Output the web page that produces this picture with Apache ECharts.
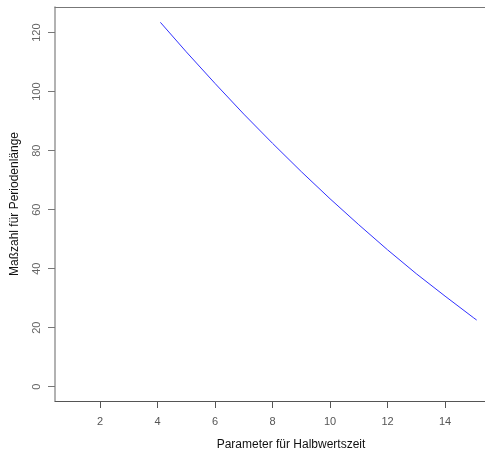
<!DOCTYPE html>
<html lang="de">
<head>
  <meta charset="UTF-8">
  <title>Periodenlänge</title>
  <style>
    html, body { margin: 0; padding: 0; background: #fff; }
    #chart { width: 485px; height: 451px; }
  </style>
</head>
<body>
  <div id="chart"></div>
  <script src="https://cdn.jsdelivr.net/npm/echarts@6/dist/echarts.min.js"></script>
  <script>
    // Werte
    var halbwertszeit = [4.1, 5, 6, 7, 8, 9, 10, 11, 12, 13, 14, 15, 15.1];
    var periodenlaenge = [123.5, 113.5, 102.8, 92.4, 82.5, 72.9, 63.7, 54.9, 46.4, 38.3, 30.7, 23.3, 22.6];
    var xTicks = [2, 4, 6, 8, 10, 12, 14];
    var yTicks = [0, 20, 40, 60, 80, 100, 120];

    var punkte = halbwertszeit.map(function (x, i) { return [x, periodenlaenge[i]]; });

    var chart = echarts.init(document.getElementById('chart'));
    chart.setOption({
      animation: false,
      textStyle: { fontFamily: 'Liberation Sans' },
      // Plotbereich läuft rechts über den Bildrand hinaus, daher kein rechter Rahmen
      grid: { left: 55, top: 7, right: 0, bottom: 50, outerBoundsMode: 'none' },
      xAxis: [{
        type: 'value',
        min: 0.435, max: 15.39,
        name: 'Parameter für Halbwertszeit',
        nameLocation: 'middle', nameGap: 38,
        nameTextStyle: { fontSize: 12, color: '#111', padding: [0, 0, 0, 42] },
        axisLine: { onZero: false, lineStyle: { color: '#555', width: 1 } },
        axisTick: { customValues: xTicks, length: 7, lineStyle: { color: '#555' } },
        axisLabel: { customValues: xTicks, margin: 15, fontSize: 11, color: '#555' },
        splitLine: { show: false }
      }, {
        type: 'value',
        position: 'top',
        min: 0.435, max: 15.39,
        axisLine: { onZero: false, lineStyle: { color: '#777', width: 1 } },
        axisTick: { show: false },
        axisLabel: { show: false },
        splitLine: { show: false }
      }],
      yAxis: {
        type: 'value',
        min: -4.85, max: 128.7,
        name: 'Maßzahl für Periodenlänge',
        nameLocation: 'middle', nameGap: 34,
        nameTextStyle: { fontSize: 12, color: '#111' },
        axisLine: { show: true, onZero: false, lineStyle: { color: '#999', width: 1.5 } },
        axisTick: { show: true, customValues: yTicks, length: 7, lineStyle: { color: '#777' } },
        axisLabel: { customValues: yTicks, rotate: 90, margin: 13, fontSize: 11, color: '#666' },
        splitLine: { show: false }
      },
      series: [{
        type: 'line',
        data: punkte,
        showSymbol: false,
        lineStyle: { color: '#3030ff', width: 1 }
      }]
    });
  </script>
</body>
</html>
